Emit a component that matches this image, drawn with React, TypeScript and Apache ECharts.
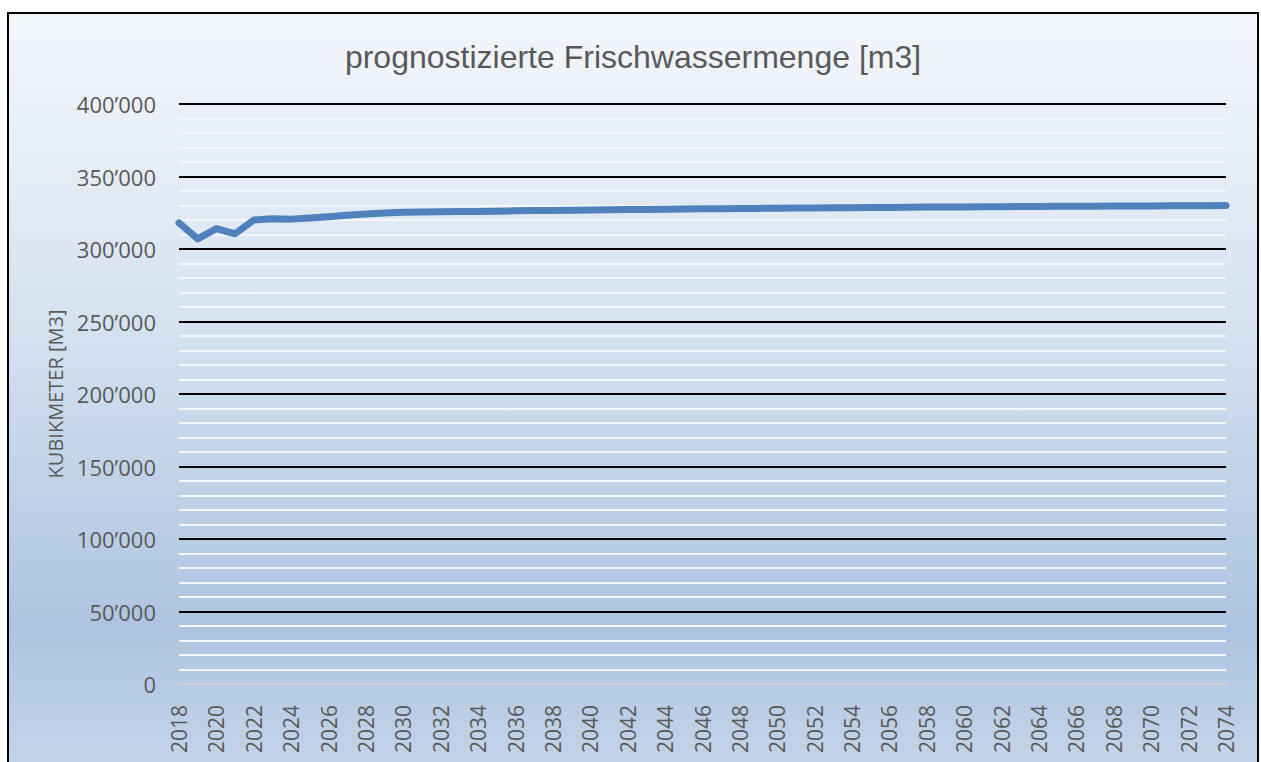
import React, { useEffect, useRef } from "react";
import * as echarts from "echarts";

const years: string[] = [
  "2018","2019","2020","2021","2022","2023","2024","2025","2026","2027",
  "2028","2029","2030","2031","2032","2033","2034","2035","2036","2037",
  "2038","2039","2040","2041","2042","2043","2044","2045","2046","2047",
  "2048","2049","2050","2051","2052","2053","2054","2055","2056","2057",
  "2058","2059","2060","2061","2062","2063","2064","2065","2066","2067",
  "2068","2069","2070","2071","2072","2073","2074",
];

const frischwasser: number[] = [
  318000, 307000, 314000, 310500, 320000, 320800, 320600, 321300, 322200, 323300,
  324100, 324900, 325300, 325500, 325700, 325800, 325900, 326100, 326300, 326500,
  326600, 326700, 326900, 327000, 327200, 327300, 327400, 327600, 327700, 327800,
  327900, 328000, 328100, 328200, 328300, 328400, 328500, 328600, 328700, 328800,
  328900, 328950, 329000, 329100, 329200, 329250, 329300, 329400, 329450, 329500,
  329600, 329650, 329700, 329800, 329850, 329900, 330000,
];

const title = "prognostizierte Frischwassermenge [m3]";
const yAxisTitle = "KUBIKMETER [M3]";

const fmt = (v: number) => {
  if (v === 0) return "0";
  const s = String(Math.round(v));
  return s.replace(/\B(?=(\d{3})+(?!\d))/g, "\u2019");
};

export default function App() {
  const ref = useRef<HTMLDivElement>(null);
  useEffect(() => {
    if (!ref.current) return;
    const chart = echarts.init(ref.current, undefined, { renderer: "svg" });
    const majorColors = ["#d0d0d0", "#000", "#000", "#000", "#000", "#000", "#000", "#000", "#000"];
    chart.setOption({
      animation: false,
      backgroundColor: new echarts.graphic.LinearGradient(0, 0, 0, 1, [
        { offset: 0, color: "#f4f7fc" },
        { offset: 0.4, color: "#d6e2f0" },
        { offset: 0.8, color: "#adc4e0" },
        { offset: 1, color: "#c6d6ea" },
      ]),
      title: {
        text: title,
        left: "center",
        top: 22,
        textStyle: {
          fontFamily: "Liberation Sans, Arial, sans-serif",
          fontSize: 32,
          fontWeight: "normal",
          color: "#595959",
        },
      },
      grid: { left: 170, right: 31, top: 90, bottom: 96 },
      xAxis: {
        type: "category",
        data: years,
        boundaryGap: false,
        axisLine: { show: false },
        axisTick: { show: false },
        axisLabel: {
          interval: 1,
          rotate: 90,
          margin: 21,
          fontFamily: "Open Sans, sans-serif",
          fontSize: 21,
          color: "#595959",
        },
        splitLine: { show: false },
      },
      yAxis: {
        type: "value",
        min: 0,
        max: 400000,
        interval: 50000,
        name: yAxisTitle,
        nameLocation: "middle",
        nameRotate: 90,
        nameGap: 106,
        nameTextStyle: {
          fontFamily: "Open Sans, sans-serif",
          fontSize: 20,
          color: "#595959",
        },
        axisLine: { show: false },
        axisTick: { show: false },
        axisLabel: {
          margin: 23,
          fontFamily: "Open Sans, sans-serif",
          fontSize: 22,
          color: "#595959",
          formatter: (v: number) => fmt(v),
        },
        splitLine: { show: true, lineStyle: { color: majorColors, width: 2 } },
        minorTick: { show: true, splitNumber: 5, length: 0 },
        minorSplitLine: { show: true, lineStyle: { color: "#f4f6f9", width: 2 } },
      },
      series: [
        {
          type: "line",
          data: frischwasser,
          showSymbol: false,
          symbol: "none",
          lineStyle: { color: "#4f81bd", width: 7, cap: "round", join: "round" },
        },
      ],
    });
    return () => chart.dispose();
  }, []);
  return (
    <div
      style={{
        position: "absolute",
        left: 7,
        top: 12,
        width: 1252,
        height: 770,
        border: "2px solid #000",
        boxSizing: "border-box",
      }}
    >
      <div ref={ref} style={{ width: 1248, height: 766 }} />
    </div>
  );
}
